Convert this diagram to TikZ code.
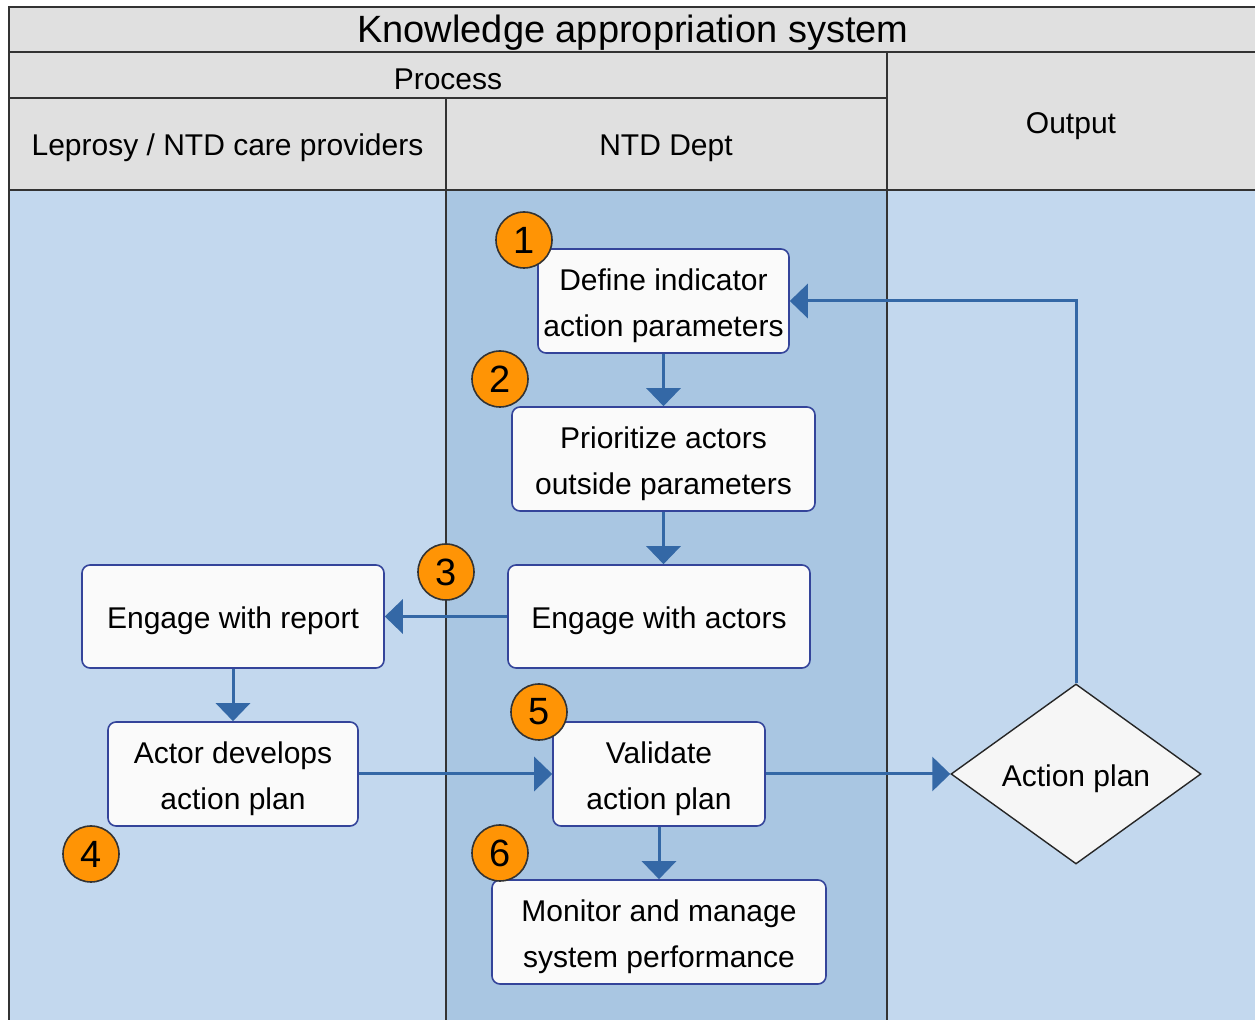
\documentclass[tikz,border=0pt]{standalone}
\usepackage{fontspec}
\setmainfont{Liberation Sans}
\usetikzlibrary{arrows.meta,shapes.geometric}
\definecolor{hdr}{HTML}{E0E0E0}
\definecolor{lanelight}{HTML}{C3D8EE}
\definecolor{lanedark}{HTML}{A9C6E2}
\definecolor{arr}{HTML}{3468A6}
\definecolor{nodeb}{HTML}{34449A}
\definecolor{nodef}{HTML}{FAFAFA}
\definecolor{diamf}{HTML}{F6F6F6}
\definecolor{badgef}{HTML}{FF9405}
\definecolor{gridc}{HTML}{333333}
\begin{document}
\begin{tikzpicture}[x=0.5pt,y=-0.5pt,
  grid/.style={draw=gridc,line width=1pt},
  hdrtext/.style={font=\fontsize{15}{18}\selectfont,inner sep=0pt},
  box/.style={draw=nodeb,fill=nodef,rounded corners=4pt,line width=0.8pt,inner sep=0pt},
  lbl/.style={align=center,font=\fontsize{15}{23}\selectfont,inner sep=0pt,yshift=-2.3pt},
  decision/.style={diamond,draw=black!85,fill=diamf,line width=0.7pt,inner sep=0pt,
    aspect=1.39,minimum width=125pt,minimum height=90pt},
  flow/.style={draw=arr,line width=1.5pt,-{Triangle[length=9pt,width=17pt]}},
  badge/.style={circle,fill=badgef,draw=black!80,line width=0.8pt,minimum size=28pt,inner sep=0pt,
    font=\fontsize{19}{19}\selectfont}]
\useasboundingbox (0,0) rectangle (1255,1020);
% backgrounds
\fill[white] (0,0) rectangle (1255,1020);
\fill[hdr] (9,7) rectangle (1256,190);
\fill[lanelight] (9,190) rectangle (446,1021);
\fill[lanedark] (446,190) rectangle (887,1021);
\fill[lanelight] (887,190) rectangle (1256,1021);
% grid lines
\draw[grid] (9,1021) -- (9,7) -- (1256,7);
\draw[grid] (9,52) -- (1256,52);
\draw[grid] (9,98) -- (887,98);
\draw[grid] (9,190) -- (1256,190);
\draw[grid] (446,98) -- (446,1021);
\draw[grid] (887,52) -- (887,1021);
% header texts
\node[hdrtext,font=\fontsize{19}{22}\selectfont] (title) at (633,33) {Knowledge appropriation system};
\node[hdrtext] (proc) at (448,79) {Process};
\node[hdrtext] (lane1) at (227.5,148) {Leprosy / NTD care providers};
\node[hdrtext] (lane2) at (666,148) {NTD Dept};
\node[hdrtext] (out) at (1071,126) {Output};
% nodes
\node[box,minimum width=125.5pt,minimum height=52pt,label={[lbl]center:{Define indicator\\action parameters}}] (def) at (663.5,301) {};
\node[box,minimum width=151.5pt,minimum height=52pt,label={[lbl]center:{Prioritize actors\\outside parameters}}] (prio) at (663.5,459) {};
\node[box,minimum width=151pt,minimum height=51.5pt,label={[lbl]center:{Engage with actors}}] (engA) at (659,616.5) {};
\node[box,minimum width=151pt,minimum height=51.5pt,label={[lbl]center:{Engage with report}}] (engR) at (233,616.5) {};
\node[box,minimum width=125pt,minimum height=52pt,label={[lbl]center:{Actor develops\\action plan}}] (dev) at (233,774) {};
\node[box,minimum width=106pt,minimum height=52pt,label={[lbl]center:{Validate\\action plan}}] (val) at (659,774) {};
\node[box,minimum width=167pt,minimum height=52pt,label={[lbl]center:{Monitor and manage\\system performance}}] (mon) at (659,932) {};
\node[decision,label={[lbl]center:{Action plan}}] (ap) at (1076,774) {};
% connectors
\draw[flow] (def) -- (prio);
\draw[flow] (prio.south) -- (prio.south |- engA.north);
\draw[flow] (engA) -- (engR);
\draw[flow] (engR) -- (dev);
\draw[flow] (dev) -- (val);
\draw[flow] (val) -- (mon);
\draw[flow] (val) -- (ap);
\draw[flow] (ap.north) |- (def.east);
% badges
\node[badge] (b1) at (524,240) {1};
\node[badge] (b2) at (500,379) {2};
\node[badge] (b3) at (446,572) {3};
\node[badge] (b4) at (91,854) {4};
\node[badge] (b5) at (539,712) {5};
\node[badge] (b6) at (500,853) {6};
\end{tikzpicture}
\end{document}
